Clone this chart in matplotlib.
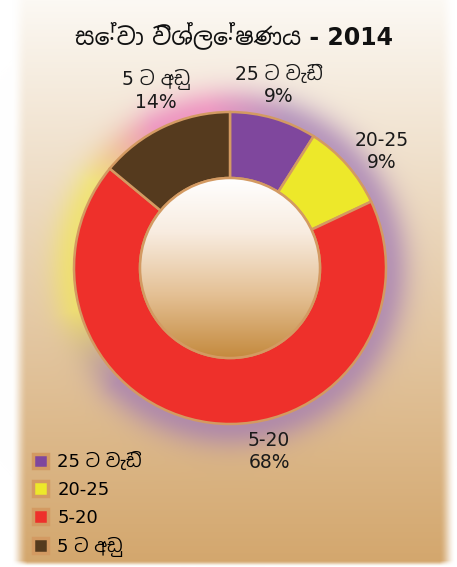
import numpy as np
import matplotlib
matplotlib.use("Agg")
import matplotlib.pyplot as plt
from matplotlib import font_manager
from matplotlib.patches import Circle, Patch

# data
labels = ["25 ට වැඩි", "20-25", "5-20", "5 ට අඩු"]
values = [9, 9, 68, 14]
colors = ["#7f479d", "#ede82a", "#ee302b", "#553a1e"]
title = "සේවා විශ්ලේෂණය - 2014"

# use a sinhala font if the machine happens to have one
sinhala = [f.name for f in font_manager.fontManager.ttflist
           if "Sinhala" in f.name or "Iskoola" in f.name]
fams = ["DejaVu Sans"] + sinhala[:1]
plt.rcParams["font.family"] = fams

W, H = 457, 567
cx, cy = 230, H - 268   # donut centre (y up)
R, r = 156, 90
edge = "#d39a62"

fig = plt.figure(figsize=(W / 100, H / 100), dpi=100)
ax = fig.add_axes([0, 0, 1, 1])
ax.set_axis_off()

# ---- background panel: white top fading to tan, soft side edges
yy, xx = np.mgrid[0:H, 0:W].astype(float)
t = (yy / H) ** 0.95
top = np.array([252, 249, 244]) / 255
bot = np.array([211, 166, 108]) / 255
panel = top[None, None, :] * (1 - t[..., None]) + bot[None, None, :] * t[..., None]
a = np.clip((xx - 11) / 16, 0, 1) * np.clip((W - 2 - xx) / 16, 0, 1) * np.clip((H - 1 - yy) / 6, 0, 1)
a = a * a * (3 - 2 * a)
bg = panel * a[..., None] + (1 - a[..., None])

# ---- coloured glow around the ring
dx = xx - cx
dy = (H - yy) - cy
ang = np.degrees(np.arctan2(dy, dx)) % 360
dist = np.hypot(dx, dy) - R
stops = [0, 70, 98, 118, 148, 195, 225, 360]
purple = (160, 120, 180)
pink = (236, 120, 185)
yellow = (242, 230, 90)
cols = [purple, purple, pink, pink, yellow, yellow, purple, purple]
glow = np.stack([np.interp(ang, stops, [c[i] for c in cols]) for i in range(3)], -1) / 255
ga = 0.7 * np.exp(-(np.clip(dist, 0, None) / 24) ** 2)
bg = bg * (1 - ga[..., None]) + glow * ga[..., None]
ax.imshow(bg, extent=(0, W, 0, H), origin="upper", zorder=0, interpolation="bilinear")

# ---- donut
wedges, _ = ax.pie(values, colors=colors, startangle=90, counterclock=False,
                   radius=R, center=(cx, cy),
                   wedgeprops=dict(width=R - r, edgecolor=edge, linewidth=1.8))
for w in wedges:
    w.set_zorder(2)

# gradient in the hole
g = np.linspace(0, 1, 200)
hs = [0, 0.3, 0.65, 1.0]
hc = [(255, 255, 255), (248, 236, 224), (228, 192, 148), (196, 138, 62)]
hole = np.stack([np.interp(g, hs, [c[i] for c in hc]) for i in range(3)], -1) / 255
hole = np.repeat(hole[:, None, :], 10, axis=1)
im = ax.imshow(hole, extent=(cx - r, cx + r, cy - r, cy + r), origin="upper",
               zorder=3, aspect="auto", interpolation="bilinear")
clip = Circle((cx, cy), r, transform=ax.transData)
im.set_clip_path(clip)
ax.add_patch(Circle((cx, cy), r, facecolor="none", edgecolor=edge, linewidth=1.8, zorder=4))

ax.set_xlim(0, W)
ax.set_ylim(0, H)
ax.set_aspect("auto")

# ---- text
ax.text(234, H - 35, title, ha="center", va="center", fontsize=17,
        fontweight="bold", color="#111111", zorder=5)

lab_pos = [(279, 85), (382, 152), (269, 451), (156, 90)]
for (px, py), lb, v in zip(lab_pos, labels, values):
    ax.text(px, H - py, f"{lb}\n{v}%", ha="center", va="center",
            fontsize=13.5, color="#1a1a1a", linespacing=1.2, zorder=5)

handles = [Patch(facecolor=c, edgecolor=edge, linewidth=2.5) for c in colors]
ax.legend(handles, labels, loc="upper left", bbox_to_anchor=(33 / W, 1 - 452 / H),
          frameon=False, fontsize=13, handlelength=0.85, handleheight=0.85,
          handletextpad=0.5, labelspacing=0.55, borderpad=0, borderaxespad=0)

fig.savefig("out.png", dpi=100)
